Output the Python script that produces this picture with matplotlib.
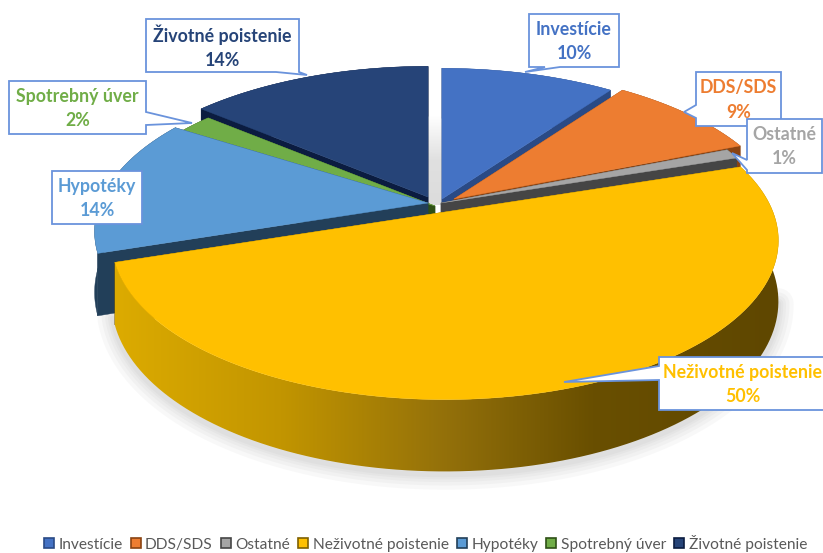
import matplotlib
matplotlib.use("Agg")
import matplotlib.pyplot as plt
import numpy as np
from matplotlib.colors import LinearSegmentedColormap
from matplotlib.lines import Line2D
from matplotlib.patches import Polygon

plt.rcParams["font.family"] = ["Lato", "DejaVu Sans"]

# --- Data ---
categories = ["Investície", "DDS/SDS", "Ostatné", "Neživotné poistenie",
              "Hypotéky", "Spotrebný úver", "Životné poistenie"]
shares = [10, 9, 1, 50, 14, 2, 14]

top_colors = ["#4472C4", "#ED7D31", "#A5A5A5", "#FFC000", "#5B9BD5", "#70AD47", "#264478"]
wall_colors = ["#2A4A85", "#8A4312", "#454545", "#7F6000", "#223F59", "#2F5016", "#0B1C40"]
label_colors = ["#4472C4", "#ED7D31", "#A5A5A5", "#FFC000", "#5B9BD5", "#70AD47", "#264478"]

# where each exploded slice has its tip, in pixels
tips = [(442, 199), (454, 199), (441, 203), (445, 212), (428, 203), (435, 206), (428, 197)]
draw_order = [0, 6, 5, 4, 1, 2, 3]

RX, RY, PERSP, DEPTH = 328, 154, 0.179, 59
BORDER = "#6A93DC"


def project(theta, tip):
    """Kruh s perspektivou -> pixely obrazku."""
    x, y = np.cos(np.radians(theta)), np.sin(np.radians(theta))
    w = 1 + PERSP * y
    return tip[0] + RX * x / w, tip[1] - RY * y / w, DEPTH / w


def draw_slice(ax, theta1, theta2, tip, top, wall, gradient=None):
    th = np.linspace(theta1, theta2, 120)
    px, py, d = project(th, tip)

    # rezy
    for i in (0, -1):
        ax.fill([tip[0], px[i], px[i], tip[0]], [tip[1], py[i], py[i] + d[i], tip[1] + DEPTH],
                color=wall, lw=0.3, zorder=2)
    # vonkajsia stena
    xs = np.r_[px, px[::-1]]
    ys = np.r_[py, (py + d)[::-1]]
    if gradient is None:
        ax.fill(xs, ys, color=wall, lw=0.3, zorder=2)
    else:
        clip = Polygon(np.c_[xs, ys], closed=True, fc="none", ec="none", transform=ax.transData)
        ax.add_patch(clip)
        grad = np.linspace(0, 1, 256).reshape(1, -1)
        im = ax.imshow(grad, cmap=gradient, extent=(px.min(), px.max(), 480, 150),
                       aspect="auto", zorder=2)
        im.set_clip_path(clip)
    # vrch
    ax.fill(np.r_[tip[0], px], np.r_[tip[1], py], color=top, lw=0.3, zorder=2)
    return px, py, d


def callout(ax, box, pointer, text, color):
    """Biely ramcek s cipom; pointer su tri body (zaklad, spicka, zaklad)."""
    x0, y0, x1, y1 = box
    if pointer is None:
        pts = [(x0, y0), (x1, y0), (x1, y1), (x0, y1)]
    else:
        side, a, tip, b = pointer
        if side == "left":
            pts = [(x0, y0), (x1, y0), (x1, y1), (x0, y1), (x0, b), tip, (x0, a)]
        elif side == "right":
            pts = [(x0, y0), (x1, y0), (x1, a), tip, (x1, b), (x1, y1), (x0, y1)]
        else:
            pts = [(x0, y0), (x1, y0), (x1, y1), (b, y1), tip, (a, y1), (x0, y1)]
    ax.add_patch(Polygon(pts, closed=True, fc="white", ec=BORDER, lw=1.3, zorder=5))
    ax.text((x0 + x1) / 2 if x1 < 823 else 743, (y0 + y1) / 2 + 1, text, color=color,
            ha="center", va="center", fontsize=12.8, fontweight="bold", linespacing=1.5, zorder=6)


fig = plt.figure(figsize=(8.23, 5.53), dpi=100)
ax = fig.add_axes([0, 0, 1, 1])

# uhly dava priamo pie, potom sa kresli vlastna projekcia
wedges = ax.pie(shares, startangle=90, counterclock=False)[0]
angles = [(w.theta1, w.theta2) for w in wedges]
for w in wedges:
    w.remove()
ax.set_aspect("auto")

# tien pod kolacom
th = np.linspace(195, 350, 200)
sx, sy, sd = project(th, tips[3])
for lw in (22, 16, 11, 7, 4):
    ax.plot(sx, sy + sd + 3, color="#808080", alpha=0.05, lw=lw, zorder=1, solid_capstyle="round")

# svetla medzera medzi zivotnym a investiciami
gap = LinearSegmentedColormap.from_list("gap", ["#FFFFFF", "#E0E0E0", "#DCDCDC"])
ax.imshow(np.linspace(0, 1, 64).reshape(-1, 1), cmap=gap, extent=(428, 442, 205, 115),
          aspect="auto", zorder=1)

wall_cmap = LinearSegmentedColormap.from_list(
    "wall", [(0, "#DCAB00"), (0.25, "#C29500"), (0.5, "#93700A"), (0.72, "#694F00"), (1, "#5F4700")])

for i in draw_order:
    grad = wall_cmap if i == 3 else None
    px, py, d = draw_slice(ax, *angles[i], tips[i], top_colors[i], wall_colors[i], grad)
    if i == 3:
        # svetly okraj vlavo dole, tmavy vpravo
        th_y = np.linspace(angles[i][0], angles[i][1], len(px))
        left = (th_y > 205) & (th_y < 285)
        ax.plot(px[left], py[left], color="#FFDD1A", lw=1.6, alpha=0.9, zorder=3)
        right = (th_y > 72) & (th_y < 130)
        ax.plot(px[right], py[right], color="#8A6A00", lw=1.2, alpha=0.8, zorder=3)

# --- Popisky ---
pct = [f"{s}%" for s in shares]
boxes = [(529, 14, 619, 67), (696, 72, 781, 126), (747, 119, 822, 173), (659, 357, 840, 410),
         (52, 171, 142, 224), (9, 81, 146, 134), (146, 19, 299, 72)]
pointers = [("bottom", 545, (525, 72), 560), ("left", 105, (684, 112), 118), ("left", 160, (732, 153), 170),
            ("left", 366, (564, 382), 380), None, ("right", 112, (192, 123), 125),
            ("bottom", 276, (307, 75), 299)]
for i in range(len(categories)):
    callout(ax, boxes[i], pointers[i], f"{categories[i]}\n{pct[i]}", label_colors[i])

# --- Legenda ---
handles = [Line2D([], [], ls="none", marker="s", ms=6.5, mfc=c, mec=w, mew=1.2)
           for c, w in zip(top_colors, wall_colors)]
ax.legend(handles, categories, loc="lower left", bbox_to_anchor=(45 / 823, 0.002), ncol=7, frameon=False,
          fontsize=11.2, labelcolor="#595959", handlelength=0.5, handletextpad=0.35,
          columnspacing=0.6, borderpad=0, borderaxespad=0)

ax.set_xlim(0, 823)
ax.set_ylim(553, 0)
ax.axis("off")
fig.savefig("out.png", dpi=100)
plt.close(fig)
